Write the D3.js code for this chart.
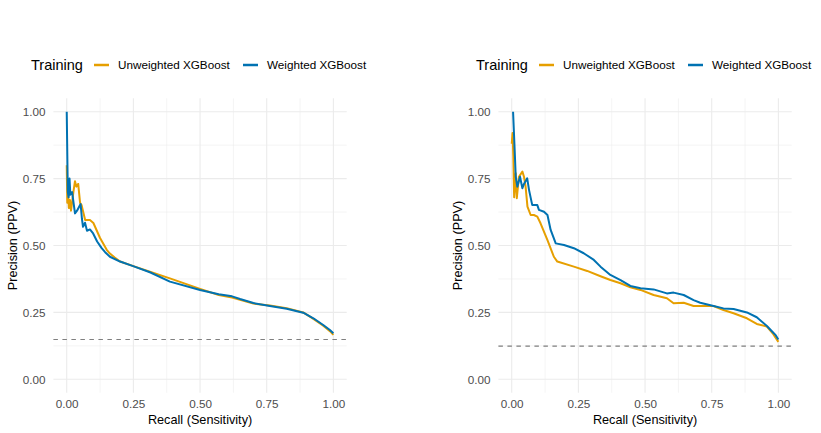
<!DOCTYPE html>
<html>
<head>
<meta charset="utf-8">
<script src="https://cdn.jsdelivr.net/npm/d3@7"></script>
<style>
  body { margin: 0; background: #fff; }
  svg { font-family: 'Liberation Sans', Arial, sans-serif; }
</style>
</head>
<body>
<div id="chart-area"></div>
<script>
// Series labels and colours
const seriesNames = ['Unweighted XGBoost', 'Weighted XGBoost'];
const seriesColors = ['#E69F00', '#0072B2'];
const ticks = [0, 0.25, 0.5, 0.75, 1];

// Left panel: [recall, precision]
const leftUnweighted = [
  [0, 0.80], [0.002, 0.66], [0.005, 0.70], [0.008, 0.64], [0.012, 0.67], [0.016, 0.63],
  [0.02, 0.66], [0.025, 0.70], [0.031, 0.74], [0.036, 0.72], [0.043, 0.73], [0.05, 0.66],
  [0.056, 0.65], [0.069, 0.595], [0.087, 0.595], [0.1, 0.584], [0.125, 0.528], [0.15, 0.484],
  [0.162, 0.47], [0.18, 0.455], [0.2, 0.44], [0.25, 0.423], [0.312, 0.402], [0.387, 0.377],
  [0.5, 0.338], [0.57, 0.315], [0.62, 0.306], [0.65, 0.297], [0.70, 0.283], [0.762, 0.276],
  [0.825, 0.266], [0.887, 0.25], [0.925, 0.226], [0.962, 0.2], [0.987, 0.18], [1.0, 0.166]
];
const leftWeighted = [
  [0, 1.0], [0.002, 0.85], [0.004, 0.70], [0.007, 0.68], [0.0105, 0.75], [0.0135, 0.69],
  [0.02, 0.70], [0.0255, 0.66], [0.031, 0.62], [0.0386, 0.63], [0.052, 0.655], [0.057, 0.60],
  [0.061, 0.57], [0.0686, 0.585], [0.076, 0.555], [0.087, 0.56], [0.099, 0.545], [0.114, 0.515],
  [0.131, 0.49], [0.144, 0.475], [0.162, 0.458], [0.2, 0.44], [0.249, 0.423], [0.312, 0.400],
  [0.387, 0.365], [0.5, 0.334], [0.57, 0.318], [0.62, 0.31], [0.65, 0.30], [0.70, 0.285],
  [0.762, 0.274], [0.825, 0.264], [0.887, 0.249], [0.925, 0.228], [0.962, 0.203], [0.987, 0.184],
  [1.0, 0.172]
];
const leftBaseline = 0.149;

// Right panel: [recall, precision]
const rightUnweighted = [
  [0, 0.88], [0.003, 0.92], [0.006, 0.832], [0.009, 0.68], [0.015, 0.77], [0.019, 0.677],
  [0.027, 0.757], [0.040, 0.776], [0.046, 0.757], [0.052, 0.72], [0.059, 0.645], [0.071, 0.614],
  [0.083, 0.614], [0.096, 0.608], [0.108, 0.583], [0.134, 0.52], [0.158, 0.458], [0.171, 0.44],
  [0.233, 0.421], [0.283, 0.405], [0.333, 0.385], [0.370, 0.371], [0.408, 0.359], [0.445, 0.344],
  [0.483, 0.334], [0.532, 0.315], [0.582, 0.303], [0.607, 0.284], [0.645, 0.286], [0.682, 0.274],
  [0.757, 0.274], [0.794, 0.259], [0.832, 0.247], [0.882, 0.228], [0.919, 0.207], [0.957, 0.197],
  [0.981, 0.169], [1.0, 0.14]
];
const rightWeighted = [
  [0.005, 1.0], [0.011, 0.857], [0.015, 0.757], [0.021, 0.72], [0.031, 0.757], [0.040, 0.714],
  [0.046, 0.73], [0.058, 0.751], [0.065, 0.707], [0.077, 0.651], [0.096, 0.651], [0.102, 0.633],
  [0.121, 0.626], [0.134, 0.614], [0.146, 0.558], [0.165, 0.508], [0.196, 0.502], [0.233, 0.49],
  [0.270, 0.471], [0.308, 0.446], [0.333, 0.421], [0.370, 0.39], [0.408, 0.371], [0.445, 0.349],
  [0.483, 0.34], [0.532, 0.336], [0.582, 0.321], [0.607, 0.324], [0.645, 0.315], [0.682, 0.296],
  [0.707, 0.286], [0.757, 0.274], [0.794, 0.265], [0.832, 0.263], [0.882, 0.25], [0.919, 0.232],
  [0.957, 0.199], [0.981, 0.174], [0.99, 0.165], [1.0, 0.149]
];
const rightBaseline = 0.124;

const svg = d3.select('#chart-area')
  .append('svg')
  .attr('width', 821)
  .attr('height', 433);

const drawPanel = (offsetX, seriesList, baseline) => {
  const g = svg.append('g').attr('transform', `translate(${offsetX},0)`);
  const margin = { left: 53.4, top: 98.3, right: 346.7, bottom: 392.7 };

  const xScale = d3.scaleLinear().domain([-0.05, 1.05]).range([margin.left, margin.right]);
  const yScale = d3.scaleLinear().domain([-0.05, 1.05]).range([margin.bottom, margin.top]);

  // minor grid
  const minor = [0.125, 0.375, 0.625, 0.875];
  g.selectAll('.minor-x').data(minor).enter().append('line')
    .attr('x1', d => xScale(d)).attr('x2', d => xScale(d))
    .attr('y1', margin.top).attr('y2', margin.bottom)
    .attr('stroke', '#EBEBEB').attr('stroke-width', 0.55);
  g.selectAll('.minor-y').data(minor).enter().append('line')
    .attr('y1', d => yScale(d)).attr('y2', d => yScale(d))
    .attr('x1', margin.left).attr('x2', margin.right)
    .attr('stroke', '#EBEBEB').attr('stroke-width', 0.55);

  // major grid
  g.selectAll('.major-x').data(ticks).enter().append('line')
    .attr('x1', d => xScale(d)).attr('x2', d => xScale(d))
    .attr('y1', margin.top).attr('y2', margin.bottom)
    .attr('stroke', '#EBEBEB').attr('stroke-width', 1.1);
  g.selectAll('.major-y').data(ticks).enter().append('line')
    .attr('y1', d => yScale(d)).attr('y2', d => yScale(d))
    .attr('x1', margin.left).attr('x2', margin.right)
    .attr('stroke', '#EBEBEB').attr('stroke-width', 1.1);

  // Axes
  const xAxis = d3.axisBottom(xScale).tickValues(ticks).tickSize(0).tickPadding(0)
    .tickFormat(d3.format('.2f'));
  const xAxisGroup = g.append('g').attr('transform', `translate(0,${margin.bottom + 15.3})`).call(xAxis);
  xAxisGroup.select('.domain').remove();
  xAxisGroup.selectAll('text')
    .attr('dy', 0).attr('y', 0)
    .attr('font-size', '11.7px').attr('fill', '#4D4D4D').attr('font-family', null);

  const yAxis = d3.axisLeft(yScale).tickValues(ticks).tickSize(0).tickPadding(0)
    .tickFormat(d3.format('.2f'));
  const yAxisGroup = g.append('g').attr('transform', `translate(${margin.left - 8},0)`).call(yAxis);
  yAxisGroup.select('.domain').remove();
  yAxisGroup.selectAll('text')
    .attr('dy', '0.35em').attr('x', 0)
    .attr('font-size', '11.7px').attr('fill', '#4D4D4D').attr('font-family', null);

  // Axis titles
  g.append('text')
    .attr('x', (margin.left + margin.right) / 2)
    .attr('y', 423.5)
    .attr('text-anchor', 'middle')
    .attr('font-size', '12.7px')
    .text('Recall (Sensitivity)');
  g.append('text')
    .attr('transform', `translate(16.5,${(margin.top + margin.bottom) / 2}) rotate(-90)`)
    .attr('text-anchor', 'middle')
    .attr('font-size', '12.7px')
    .text('Precision (PPV)');

  // Baseline
  g.append('line')
    .attr('x1', margin.left).attr('x2', margin.right)
    .attr('y1', yScale(baseline)).attr('y2', yScale(baseline))
    .attr('stroke', '#7F7F7F').attr('stroke-width', 1.1)
    .attr('stroke-dasharray', '4.5,4.5');

  // Curves
  const line = d3.line().x(d => xScale(d[0])).y(d => yScale(d[1]));
  seriesList.forEach((series, i) => {
    g.append('path')
      .datum(series)
      .attr('d', line)
      .attr('fill', 'none')
      .attr('stroke', seriesColors[i])
      .attr('stroke-width', 2)
      .attr('stroke-linejoin', 'round');
  });

  // Legend
  const legend = g.append('g').attr('transform', 'translate(31,65)');
  legend.append('text')
    .attr('x', 0).attr('y', 5)
    .attr('font-size', '14.5px')
    .text('Training');
  const keyX = [63, 212];
  seriesNames.forEach((name, i) => {
    legend.append('line')
      .attr('x1', keyX[i]).attr('x2', keyX[i] + 15)
      .attr('y1', 0).attr('y2', 0)
      .attr('stroke', seriesColors[i]).attr('stroke-width', 2.5);
    legend.append('text')
      .attr('x', keyX[i] + 24).attr('y', 4)
      .attr('font-size', '11.7px')
      .text(name);
  });
};

drawPanel(0, [leftUnweighted, leftWeighted], leftBaseline);
drawPanel(445, [rightUnweighted, rightWeighted], rightBaseline);
</script>
</body>
</html>
